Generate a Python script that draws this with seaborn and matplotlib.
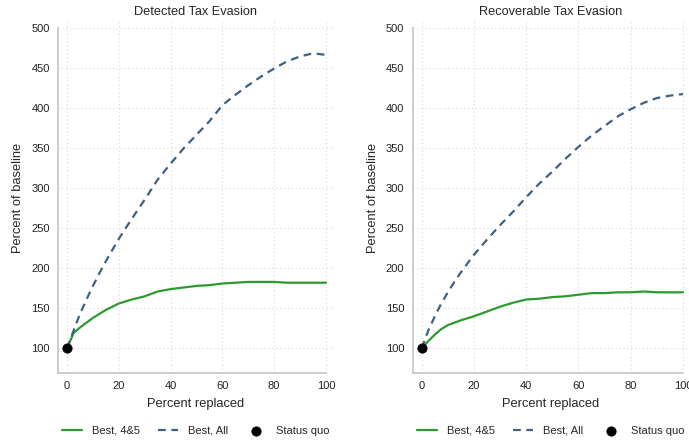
import numpy as np
import pandas as pd
import matplotlib
matplotlib.use("Agg")
import matplotlib.pyplot as plt
import seaborn as sns

# values
pct = [0, 2.5, 5, 7.5, 10, 12.5, 15, 20, 25, 30, 35, 40, 45, 50, 55, 60, 65, 70, 75, 80, 85, 90, 95, 100]

detected_best45 = [100, 119, 126, 132, 138, 143, 148, 156, 161, 165, 171, 174, 176, 178, 179, 181, 182, 183, 183, 183, 182, 182, 182, 182]
detected_bestall = [100, 122, 143, 161, 178, 194, 209, 237, 262, 286, 311, 331, 350, 367, 384, 404, 417, 429, 440, 450, 459, 465, 469, 467]

recover_best45 = [100, 109, 117, 124, 129, 132, 135, 140, 146, 152, 157, 161, 162, 164, 165, 167, 169, 169, 170, 170, 171, 170, 170, 170]
recover_bestall = [100, 122, 140, 156, 170, 183, 195, 217, 236, 254, 271, 289, 306, 321, 337, 352, 366, 378, 390, 399, 407, 413, 416, 418]

titles = ["Detected Tax Evasion", "Recoverable Tax Evasion"]
yticks = [100, 150, 200, 250, 300, 350, 400, 450, 500]
xticks = [0, 20, 40, 60, 80, 100]

sns.set_style("white")
plt.rcParams['font.family'] = ['Liberation Sans', 'DejaVu Sans']

green = '#2e9a2e'
blue = '#3d6185'
gray = '#c4c4c4'
dash = (3.5, 2.5)

fig = plt.figure(figsize=(6.89, 4.42), dpi=100)
ax1 = fig.add_axes([0.0842, 0.156, 0.399, 0.794])
ax2 = fig.add_axes([0.599, 0.156, 0.401, 0.794])

panels = [(ax1, detected_best45, detected_bestall, titles[0], (-3.5, 102.7)),
          (ax2, recover_best45, recover_bestall, titles[1], (-3.45, 102.3))]

for ax, g, b, title, xl in panels:
    df = pd.DataFrame({'x': pct, 'g': g, 'b': b})
    sns.lineplot(data=df, x='x', y='g', ax=ax, color=green, lw=1.6, label='Best, 4&5')
    sns.lineplot(data=df, x='x', y='b', ax=ax, color=blue, lw=1.6, label='Best, All')
    ax.lines[-1].set_dashes(dash)
    sns.scatterplot(x=[pct[0]], y=[g[0]], ax=ax, color='black', s=45, zorder=5,
                    edgecolor='black', label='Status quo')

    ax.set_xlim(*xl)
    ax.set_ylim(69, 508)
    ax.set_xticks(xticks)
    ax.set_yticks(yticks)
    ax.grid(True, color='#d8d8d8', linestyle=(0, (1, 2.5)), lw=0.8)
    for s in ['top', 'right']:
        ax.spines[s].set_visible(False)
    for s in ['left', 'bottom']:
        ax.spines[s].set_color(gray)
        ax.spines[s].set_linewidth(1.2)
    ax.spines['left'].set_bounds(69, 500)
    ax.spines['bottom'].set_bounds(xl[0], 100)
    ax.tick_params(axis='both', direction='out', length=4, width=1, color=gray,
                   labelsize=8, labelcolor='#222222', pad=2)
    ax.set_xlabel('Percent replaced', fontsize=9.3, labelpad=5)
    ax.set_ylabel('Percent of baseline', fontsize=9.3, labelpad=5)
    ax.set_title(title, fontsize=9.2, pad=5)

    h, l = ax.get_legend_handles_labels()
    h[1].set_dashes(dash)
    ax.legend(h, l, loc='center', bbox_to_anchor=(0.5, -0.165), ncol=3,
              frameon=False, fontsize=8, handlelength=1.8, columnspacing=1.6,
              handletextpad=0.9, borderaxespad=0, borderpad=0)

fig.savefig('out.png', dpi=100)
